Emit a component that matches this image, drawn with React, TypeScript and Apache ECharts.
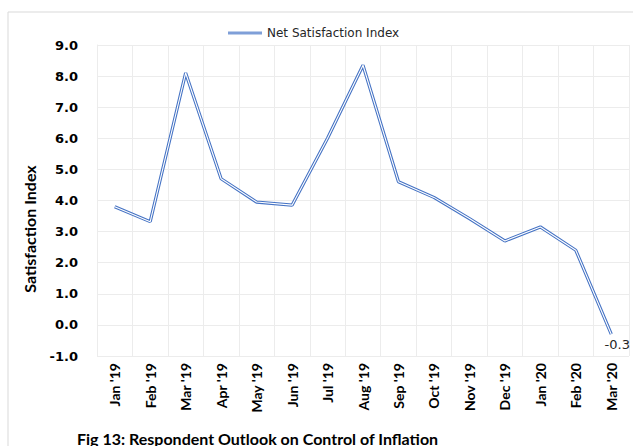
import React, { useEffect, useRef } from "react";
import * as echarts from "echarts";

const categories = [
  "Jan '19", "Feb '19", "Mar '19", "Apr '19", "May '19", "Jun '19", "Jul '19",
  "Aug '19", "Sep '19", "Oct '19", "Nov '19", "Dec '19", "Jan '20", "Feb '20", "Mar '20",
];
const netSatisfaction = [3.8, 3.32, 8.1, 4.7, 3.95, 3.85, 6.0, 8.35, 4.6, 4.1, 3.42, 2.7, 3.15, 2.4, -0.3];
const seriesName = "Net Satisfaction Index";
const yTitle = "Satisfaction Index";
const caption = "Fig 13: Respondent Outlook on Control of Inflation";

export default function App() {
  const ref = useRef<HTMLDivElement>(null);
  useEffect(() => {
    if (!ref.current) return;
    const chart = echarts.init(ref.current, null, { renderer: "svg" });
    const last = netSatisfaction.length - 1;
    chart.setOption({
      animation: false,
      backgroundColor: "#ffffff",
      legend: {
        data: [{ name: seriesName, icon: "rect", itemStyle: { color: "#7f9fd8" } }],
        left: 223,
        top: 22,
        itemWidth: 34,
        itemHeight: 3,
        itemGap: 5,
        textStyle: { fontFamily: "DejaVu Sans", fontSize: 12, color: "#262626" },
      },
      grid: { left: 97, right: 4, top: 45, bottom: 90, containLabel: false },
      xAxis: {
        type: "category",
        data: categories,
        boundaryGap: true,
        axisLine: { show: false },
        axisTick: { show: false },
        splitLine: { show: true, lineStyle: { color: "#ececec", width: 1 } },
        axisLabel: {
          rotate: 90,
          interval: 0,
          margin: 7,
          fontFamily: "Lato",
          fontWeight: "bold",
          fontSize: 14,
          color: "#000000",
        },
      },
      yAxis: {
        type: "value",
        min: -1,
        max: 9,
        interval: 1,
        axisLine: { show: true, lineStyle: { color: "#ececec" } },
        axisTick: { show: false },
        splitLine: { show: true, lineStyle: { color: "#ececec", width: 1 } },
        axisLabel: {
          margin: 19,
          fontFamily: "DejaVu Sans",
          fontWeight: "bold",
          fontSize: 13,
          color: "#000000",
          formatter: (v: number) => v.toFixed(1),
        },
      },
      graphic: [
        {
          type: "rect",
          shape: { x: 8, y: 12, width: 700, height: 600 },
          style: { fill: "none", stroke: "#d9d9d9", lineWidth: 1 },
          silent: true,
          z: -10,
        },
        {
          type: "text",
          x: 29,
          y: 229,
          rotation: Math.PI / 2,
          style: {
            text: yTitle,
            fontFamily: "Lato",
            fontWeight: "bold",
            fontSize: 16,
            fill: "#000000",
            align: "center",
            verticalAlign: "middle",
          },
        },
        {
          type: "text",
          x: 77,
          y: 446,
          style: {
            text: caption,
            fontFamily: "Lato",
            fontWeight: "bold",
            fontSize: 16,
            fill: "#000000",
            align: "left",
            verticalAlign: "bottom",
          },
        },
      ],
      series: [
        {
          name: seriesName,
          type: "line",
          clip: false,
          data: netSatisfaction.map((v, i) =>
            i === last
              ? {
                  value: v,
                  label: {
                    show: true,
                    position: "bottom",
                    offset: [6, 0],
                    distance: 4,
                    fontFamily: "DejaVu Sans",
                    fontSize: 13,
                    color: "#262626",
                    formatter: (p: any) => String(p.value),
                  },
                }
              : v
          ),
          showSymbol: true,
          symbol: "circle",
          symbolSize: 0.01,
          itemStyle: { color: "#4472C4" },
          lineStyle: { color: "#4472C4", width: 3.2 },
          z: 3,
        },
        {
          name: "inner",
          type: "line",
          data: netSatisfaction,
          showSymbol: false,
          symbol: "none",
          lineStyle: { color: "#ffffff", width: 1.1 },
          silent: true,
          z: 4,
        },
      ],
    });
    return () => chart.dispose();
  }, []);
  return (
    <div
      ref={ref}
      style={{ position: "absolute", left: 0, top: 0, width: 633, height: 446 }}
    />
  );
}
